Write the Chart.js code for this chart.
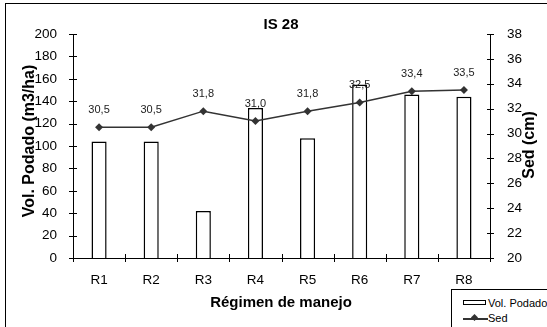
<!DOCTYPE html>
<html>
<head>
<meta charset="utf-8">
<script src="https://cdn.jsdelivr.net/npm/chart.js@4"></script>
<style>
  body { margin: 0; background: #fff; font-family: "Liberation Sans", Arial, sans-serif; }
  #wrap { position: relative; width: 547px; height: 327px; overflow: hidden; }
  #marco { position: absolute; left: 5px; top: 3px; width: 600px; height: 400px;
           border-left: 1.5px solid #000; border-top: 1.5px solid #000; pointer-events: none; }
  #leyenda { position: absolute; left: 451px; top: 289px; width: 110px; height: 50px;
             border: 1px solid #000; background: #fff; font-size: 11px; color: #000; }
  .item { position: absolute; left: 0; height: 14px; line-height: 14px; }
  .caja { position: absolute; left: 11px; top: 4px; width: 21px; height: 3px; border: 1.5px solid #000; background: #fff; }
  .linea { position: absolute; left: 11px; top: 7px; width: 25px; height: 1.5px; background: #333; }
  .rombo { position: absolute; left: 20px; top: 4px; width: 5px; height: 5px; background: #333; transform: rotate(45deg); }
  .txt { position: absolute; left: 36px; top: 0; white-space: nowrap; }
</style>
</head>
<body>
<div id="wrap">
  <canvas id="grafico" width="547" height="327"></canvas>
  <div id="marco"></div>
  <div id="leyenda">
    <div class="item" style="top:6px"><span class="caja"></span><span class="txt">Vol. Podado</span></div>
    <div class="item" style="top:21px"><span class="linea"></span><span class="rombo"></span><span class="txt">Sed</span></div>
  </div>
</div>
<script>
// datos
const regimenes = ["R1", "R2", "R3", "R4", "R5", "R6", "R7", "R8"];
const volPodado = [104, 104, 42, 134, 107, 155, 146, 144];
const sed = [30.5, 30.5, 31.8, 31.0, 31.8, 32.5, 33.4, 33.5];

const titulo = "IS 28";
const tituloX = "Régimen de manejo";
const tituloY = "Vol. Podado (m3/ha)";
const tituloY1 = "Sed (cm)";

const fuente = '"Liberation Sans", Arial, sans-serif';

// marcas de eje que cruzan la linea, titulos y etiquetas de datos
const extras = {
    id: "extras",
    afterDraw(chart) {
        const { ctx, chartArea: a, scales: { x, y, y1 } } = chart;
        ctx.save();
        ctx.strokeStyle = "#000";
        ctx.lineWidth = 1;
        ctx.beginPath();
        y.ticks.forEach(t => {
            const p = Math.round(y.getPixelForValue(t.value)) + 0.5;
            ctx.moveTo(a.left - 4, p); ctx.lineTo(a.left + 4, p);
        });
        y1.ticks.forEach(t => {
            const p = Math.round(y1.getPixelForValue(t.value)) + 0.5;
            ctx.moveTo(a.right - 3, p); ctx.lineTo(a.right + 4, p);
        });
        for (let i = 0; i <= regimenes.length; i++) {
            const p = Math.round(x.getPixelForValue(i - 0.5)) + 0.5;
            ctx.moveTo(p, a.bottom - 4); ctx.lineTo(p, a.bottom + 4);
        }
        ctx.stroke();

        ctx.fillStyle = "#000";
        ctx.textAlign = "center";
        ctx.textBaseline = "middle";
        ctx.font = "bold 15px " + fuente;
        ctx.fillText(titulo, 281, 25);
        ctx.fillText(tituloX, 281, 303);

        ctx.font = "bold 16px " + fuente;
        ctx.save();
        ctx.translate(30, 141);
        ctx.rotate(-Math.PI / 2);
        ctx.fillText(tituloY, 0, 0);
        ctx.restore();
        ctx.save();
        ctx.translate(530, 145);
        ctx.rotate(-Math.PI / 2);
        ctx.fillText(tituloY1, 0, 0);
        ctx.restore();

        // etiquetas de la serie Sed
        ctx.font = "11px " + fuente;
        ctx.fillStyle = "#222";
        const meta = chart.getDatasetMeta(1);
        meta.data.forEach((pt, i) => {
            ctx.fillText(sed[i].toFixed(1).replace(".", ","), pt.x, pt.y - 17);
        });
        ctx.restore();
    }
};

const ctx = document.getElementById("grafico").getContext("2d");
new Chart(ctx, {
    data: {
        labels: regimenes,
        datasets: [
            {
                type: "bar",
                label: "Vol. Podado",
                data: volPodado,
                yAxisID: "y",
                backgroundColor: "#fff",
                borderColor: "#000",
                borderWidth: 1.5,
                categoryPercentage: 1,
                barPercentage: 0.29,
                order: 2
            },
            {
                type: "line",
                label: "Sed",
                data: sed,
                yAxisID: "y1",
                borderColor: "#333",
                backgroundColor: "#333",
                borderWidth: 1.5,
                pointStyle: "rectRot",
                pointRadius: 4,
                pointBorderWidth: 0,
                tension: 0,
                order: 1
            }
        ]
    },
    options: {
        responsive: false,
        animation: false,
        layout: { padding: { top: 34, left: 0, right: 0, bottom: 0 } },
        plugins: {
            legend: { display: false },
            title: { display: false },
            tooltip: { enabled: false }
        },
        scales: {
            x: {
                grid: { display: false },
                border: { display: true, color: "#000", width: 1 },
                ticks: { color: "#000", font: { family: fuente, size: 13.5 }, padding: 6 },
                afterFit: s => { s.height = 69; }
            },
            y: {
                position: "left",
                min: 0,
                max: 200,
                grid: { display: false },
                border: { display: true, color: "#000", width: 1 },
                ticks: { stepSize: 20, color: "#000", font: { family: fuente, size: 13.5 }, padding: 8 },
                afterFit: s => { s.width = 73; }
            },
            y1: {
                position: "right",
                min: 20,
                max: 38,
                grid: { display: false },
                border: { display: true, color: "#000", width: 1 },
                ticks: { stepSize: 2, color: "#000", font: { family: fuente, size: 13.5 }, padding: 9 },
                afterFit: s => { s.width = 57; }
            }
        }
    },
    plugins: [extras]
});
</script>
</body>
</html>
